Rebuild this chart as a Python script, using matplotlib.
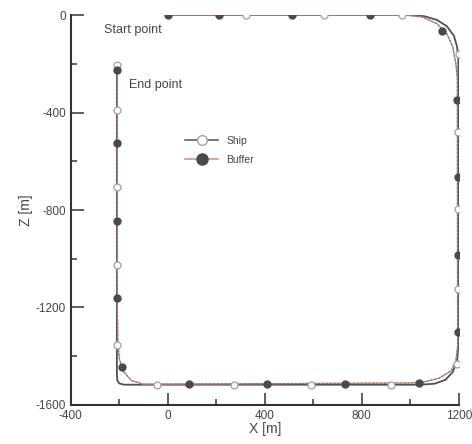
import matplotlib
matplotlib.use("Agg")
import matplotlib.pyplot as plt
from matplotlib.ticker import MultipleLocator

plt.rcParams['font.family'] = ['Liberation Sans', 'DejaVu Sans']
plt.rcParams['axes.unicode_minus'] = False

# ship trajectory (x, z) in m
ship_x = [0, 1000, 1060, 1110, 1150, 1180, 1193, 1198, 1198, 1193, 1175, 1145, 1100, 1040,
          -180, -200, -208, -210, -210]
ship_z = [0, 0, -5, -20, -45, -85, -130, -180, -1360, -1420, -1465, -1497, -1513, -1517,
          -1517, -1512, -1500, -1470, -200]

# buffer trajectory
buf_x = [0, 980, 1050, 1110, 1150, 1175, 1188, 1194, 1195, 1188, 1168, 1120, 1060, 1000,
         -100, -150, -185, -200, -206, -208, -208]
buf_z = [0, 0, -8, -35, -75, -130, -200, -260, -1360, -1420, -1460, -1490, -1505, -1510,
         -1515, -1500, -1460, -1410, -1340, -1200, -220]

# marker positions
ship_mx = [322, 643, 965, 1200, 1198, 1198, 1198, 1192, 920, 590, 272, -45,
           -210, -210, -210, -210, -210]
ship_mz = [0, 0, 0, -160, -480, -795, -1123, -1430, -1517, -1517, -1517, -1517,
           -1352, -1025, -705, -389, -205]
buf_mx = [0, 210, 511, 833, 1130, 1194, 1195, 1195, 1195, 1035, 730, 408, 87, -190,
          -208, -208, -208, -208]
buf_mz = [0, 0, 0, 0, -66, -348, -664, -984, -1299, -1508, -1515, -1515, -1515, -1443,
          -1160, -845, -525, -225]

txt = '#444444'
fig = plt.figure(figsize=(4.72, 4.44), dpi=100)
ax = fig.add_axes([0.150, 0.088, 0.822, 0.878])

ax.plot(ship_x, ship_z, color='#505050', lw=1.3, zorder=2)
ax.plot(buf_x, buf_z, color='#d48888', lw=0.9, zorder=3)
ax.plot(buf_x, buf_z, color='#777777', lw=0.8, ls=(0, (2, 1.5)), zorder=3)
ax.plot(ship_mx, ship_mz, 'o', ms=5, mfc='white', mec='#a0a0a0', mew=0.9, zorder=4)
ax.plot(buf_mx, buf_mz, 'o', ms=5, mfc='#4a4a4a', mec='#4a4a4a', zorder=5)

# legend handles
ax.plot([], [], color='#505050', lw=1.1, marker='o', ms=7, mfc='white', mec='#a0a0a0',
        label='Ship')
ax.plot([], [], color='#d48888', lw=1.1, marker='o', ms=8, mfc='#4a4a4a', mec='#4a4a4a',
        label='Buffer')
h, l = ax.get_legend_handles_labels()
ax.legend(h[-2:], l[-2:], loc='upper left', bbox_to_anchor=(0.27, 0.715), frameon=False,
          fontsize=7.5, handlelength=3.2, labelcolor=txt, labelspacing=0.9)

ax.text(-262, -62, 'Start point', fontsize=9, color=txt, va='center')
ax.text(-160, -287, 'End point', fontsize=9, color=txt, va='center')

ax.set_xlim(-400, 1200)
ax.set_ylim(-1600, 0)
ax.xaxis.set_major_locator(MultipleLocator(400))
ax.xaxis.set_minor_locator(MultipleLocator(200))
ax.yaxis.set_major_locator(MultipleLocator(400))
ax.yaxis.set_minor_locator(MultipleLocator(200))
ax.tick_params(which='both', direction='in', colors='#333333', labelcolor=txt,
               labelsize=8.5, width=1.1)
ax.tick_params(which='major', length=9)
ax.tick_params(which='minor', length=4.5)
for s in ['top', 'right']:
    ax.spines[s].set_visible(False)
for s in ['left', 'bottom']:
    ax.spines[s].set_linewidth(1.5)
    ax.spines[s].set_color('#333333')
ax.set_xlabel('X [m]', fontsize=10, color=txt, labelpad=0)
ax.set_ylabel('Z [m]', fontsize=10, color=txt, labelpad=2)

plt.savefig('out.png', dpi=100)
